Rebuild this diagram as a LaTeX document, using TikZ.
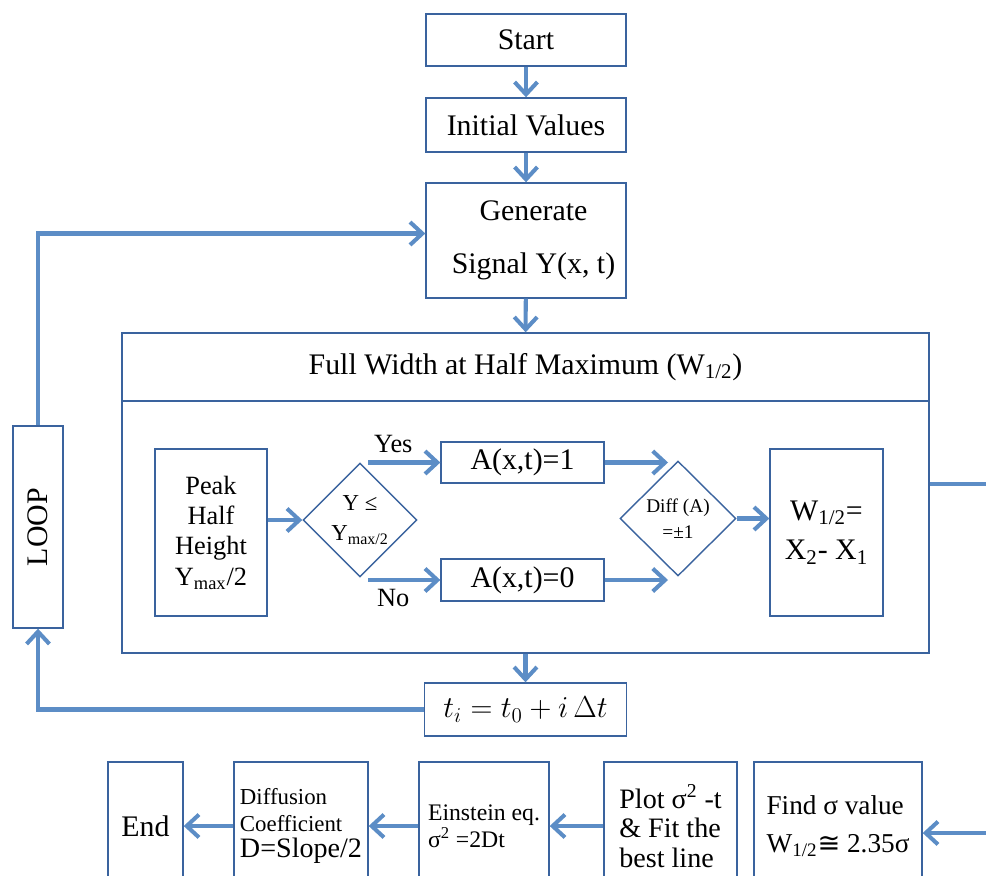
\documentclass[tikz,border=0pt]{standalone}
\usepackage{fontspec}
\setmainfont{Liberation Serif}
\newfontfamily\symfont{DejaVu Sans}
\usetikzlibrary{arrows.meta, shapes.geometric, positioning}
\definecolor{boxblue}{RGB}{58,99,158}
\definecolor{arrowblue}{RGB}{92,141,198}
\tikzset{>={Straight Barb[length=7pt,width=13pt]}}
\tikzset{
  box/.style={draw=boxblue, line width=0.8pt, fill=white, inner sep=2pt, align=center, font=\fontsize{17}{20}\selectfont},
  cond/.style={diamond, draw=boxblue, line width=0.8pt, fill=white, inner sep=0pt, align=center, font=\fontsize{13}{17}\selectfont},
  flow/.style={->, draw=arrowblue, line width=2.3pt},
}

\begin{document}
\begin{tikzpicture}[x=0.02cm, y=-0.02cm]
  \useasboundingbox (0,0) rectangle (986,875);
  \clip (0,0) rectangle (986,875);
  % top column
  \node[box, minimum width=4cm, minimum height=1.04cm] (start) at (526,40) {Start};
  \node[box, minimum width=4cm, minimum height=1.08cm] (init) at (526,125) {Initial Values};
  \node[box, minimum width=4cm, minimum height=2.3cm, font=\fontsize{17}{30}\selectfont] (gen) at (526,240.5) {\hspace*{0.3cm}Generate\\\hspace*{0.3cm}Signal Y(x, t)};
  % FWHM block
  \node[box, minimum width=16.14cm, minimum height=1.36cm] (title) at (525.5,367) {Full Width at Half Maximum (W\textsubscript{1/2})};
  \node[box, minimum width=16.14cm, minimum height=5.04cm] (body) at (525.5,527) {};
  \node[box, minimum width=2.24cm, minimum height=3.34cm, font=\fontsize{15}{17.3}\selectfont] (peak) at (211,532.5) {Peak\\Half\\Height\\Y\textsubscript{max}/2};
  \node[cond, minimum width=2.28cm, minimum height=2.28cm] (test) at (360,520) {Y ≤\\Y\textsubscript{max/2}};
  \node[box, minimum width=3.26cm, minimum height=0.82cm] (aone) at (522.5,462.5) {A(x,t)=1};
  \node[box, minimum width=3.26cm, minimum height=0.84cm] (azero) at (522.5,580) {A(x,t)=0};
  \node[cond, minimum width=2.32cm, minimum height=2.3cm, font=\fontsize{11}{15}\selectfont] (diff) at (678,518.5) {Diff (A)\\=±1};
  \node[box, minimum width=2.26cm, minimum height=3.34cm, font=\fontsize{17}{22.7}\selectfont] (width) at (826.5,532.5) {W\textsubscript{1/2}=\\X\textsubscript{2}- X\textsubscript{1}};
  % loop side (rotated: east is top, west is bottom)
  \node[box, rotate=90, minimum width=4.04cm, minimum height=1cm] (loop) at (38,527) {LOOP};
  \node[box, minimum width=4.04cm, minimum height=1.06cm] (tinc) at (525.5,709.5) {$t_i = t_0 + i\,\Delta t$};
  % bottom row
  \node[box, minimum width=1.5cm, minimum height=2.56cm] (endb) at (145.5,826) {End};
  \node[box, minimum width=2.68cm, minimum height=2.56cm, align=left, font=\fontsize{13}{15}\selectfont] (coef) at (301,826) {Diffusion\\Coefficient\\\fontsize{16}{19}\selectfont D=Slope/2};
  \node[box, minimum width=2.6cm, minimum height=2.56cm, align=left, font=\fontsize{13.5}{15.5}\selectfont] (ein) at (484,826) {Einstein eq.\\σ\textsuperscript{2} =2Dt};
  \node[box, minimum width=2.66cm, minimum height=2.56cm, align=left, font=\fontsize{16}{17}\selectfont] (plot) at (670.5,826) {Plot σ\textsuperscript{2} -t\\\& Fit the\\best line};
  \node[box, minimum width=3.36cm, minimum height=2.56cm, align=left, font=\fontsize{15.5}{21.5}\selectfont] (find) at (838,826) {Find σ value\\W\textsubscript{1/2}{\symfont ≅} 2.35σ};
  \coordinate (edge) at (992,600);

  \draw[flow] (start) -- (init);
  \draw[flow] (init) -- (gen);
  \draw[flow] (gen) -- (title);
  \draw[flow] (body) -- (tinc);
  \draw[flow] (tinc) -| (loop.west);
  \draw[flow] (loop.east) |- ([yshift=0.14cm]gen.west);
  \draw[flow] (peak.east |- test) -- (test.west);
  \draw[flow] ([xshift=0.16cm]test.north |- aone) -- (aone.west) node[pos=0.35, above=1pt, font=\fontsize{15}{17}\selectfont] (yes) {Yes};
  \draw[flow] ([xshift=0.16cm]test.south |- azero) -- (azero.west) node[pos=0.35, below=1pt, font=\fontsize{15}{17}\selectfont] (no) {No};
  \draw[flow] (aone.east) -- ([xshift=-0.2cm]diff.north |- aone.east);
  \draw[flow] (azero.east) -- ([xshift=-0.2cm]diff.south |- azero.east);
  \draw[flow] (diff.east) -- (diff.east -| width.west);
  \draw[flow] ([yshift=0.86cm]body.east) -| (edge) |- ([yshift=-0.14cm]find.east);
  \draw[flow] (plot) -- (ein);
  \draw[flow] (ein) -- (coef);
  \draw[flow] (coef) -- (endb);
\end{tikzpicture}
\end{document}
